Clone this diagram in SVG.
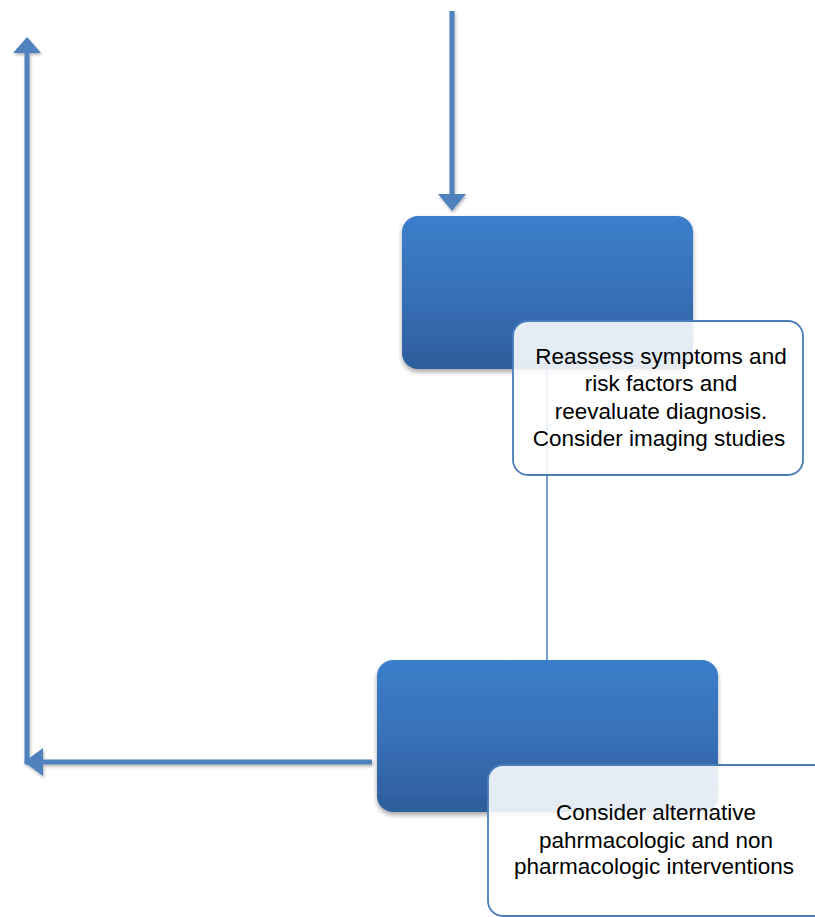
<svg xmlns="http://www.w3.org/2000/svg" width="815" height="917" viewBox="0 0 815 917">
<style>
.conn{stroke:#4f81bd;stroke-width:5;fill:none}
.thin{stroke:#4a7ebb;stroke-width:1.5;fill:none}
.blue{fill:url(#g);filter:url(#sh)}
.note{fill:#ffffff;fill-opacity:0.88;stroke:#4a7ebb;stroke-width:1.8}
text{font-family:"Liberation Sans",Arial,sans-serif;font-size:22.5px;fill:#000;text-anchor:middle}
</style>
<defs>
<linearGradient id="g" x1="0" y1="0" x2="0" y2="1">
<stop offset="0" stop-color="#3b7ecb"/>
<stop offset="0.5" stop-color="#3871b8"/>
<stop offset="1" stop-color="#2d5d9c"/>
</linearGradient>
<filter id="sh" x="-10%" y="-10%" width="130%" height="130%">
<feGaussianBlur in="SourceAlpha" stdDeviation="2.5"/>
<feOffset dx="0" dy="3" result="b"/>
<feComponentTransfer><feFuncA type="linear" slope="0.35"/></feComponentTransfer>
<feMerge><feMergeNode/><feMergeNode in="SourceGraphic"/></feMerge>
</filter>
<filter id="ls" x="-20%" y="-20%" width="140%" height="140%">
<feGaussianBlur in="SourceAlpha" stdDeviation="1.5"/>
<feOffset dx="1" dy="2"/>
<feComponentTransfer><feFuncA type="linear" slope="0.3"/></feComponentTransfer>
<feMerge><feMergeNode/><feMergeNode in="SourceGraphic"/></feMerge>
</filter>
</defs>
<g id="connectors">
<line class="thin" x1="547" y1="369" x2="547" y2="660"/>
<g filter="url(#ls)">
<line class="conn" x1="452" y1="11" x2="452" y2="196"/>
<polygon points="438,194 466,194 452,211" fill="#4f81bd"/>
<polyline class="conn" points="372,762 27,762 27,52"/>
<polygon points="13,53 41,53 27,37" fill="#4f81bd"/>
<polygon points="43,748 43,776 24,762" fill="#4f81bd"/>
</g>
</g>
<g id="node1">
<rect class="blue" x="402" y="216" width="291" height="153" rx="16"/>
</g>
<g id="note1">
<rect class="note" x="513" y="321" width="290" height="154" rx="15"/>
<text x="661" y="364">Reassess symptoms and</text>
<text x="661" y="391">risk factors and</text>
<text x="661" y="419">reevaluate diagnosis.</text>
<text x="659" y="446">Consider imaging studies</text>
</g>
<g id="node2">
<rect class="blue" x="377" y="660" width="341" height="152" rx="16"/>
</g>
<g id="note2">
<rect class="note" x="488" y="765" width="345" height="151" rx="15"/>
<text x="656" y="820">Consider alternative</text>
<text x="656" y="848">pahrmacologic and non</text>
<text x="654" y="874">pharmacologic interventions</text>
</g>
</svg>
